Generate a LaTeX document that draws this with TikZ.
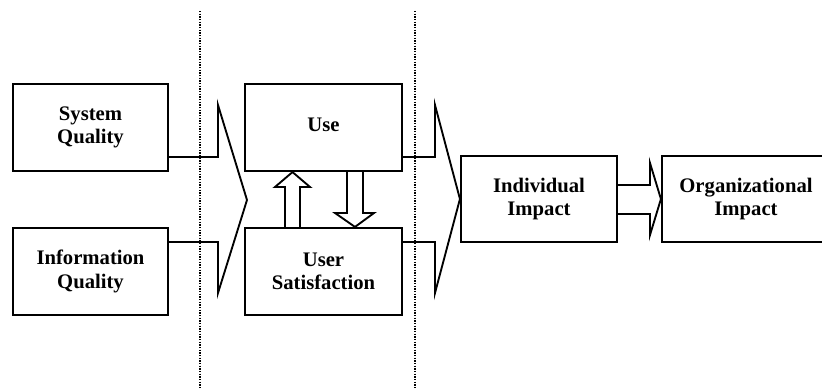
\documentclass[tikz,border=0pt]{standalone}
\usepackage{fontspec}
\setmainfont{Liberation Serif}
\usetikzlibrary{positioning}
\tikzset{box/.style = {draw, line width=1.6pt, align=center, inner sep=0pt,
                       font=\bfseries\fontsize{15.5}{17.5}\selectfont},
         fat/.style = {line width=1.4pt, line join=miter},
         divider/.style = {line width=1.3pt, dash pattern=on 1pt off 1pt}}

\begin{document}
\begin{tikzpicture}[x=0.75pt, y=-0.75pt]
    \useasboundingbox (0, 0) rectangle (822, 389);
    \clip (0, 0) rectangle (822, 389);

    \draw [divider] (200, 11) -- (200, 389);
    \draw [divider] (415, 11) -- (415, 389);

    \node [box, minimum width=116.25pt, minimum height=65.25pt] (sysq) at (90.5, 127.5) {System\\Quality};
    \node [box, minimum width=116.25pt, minimum height=65.25pt] (infq) at (90.5, 271.5) {Information\\Quality};
    \node [box, minimum width=117.75pt, minimum height=65.25pt] (use) at (323.5, 127.5) {\raisebox{4pt}{Use}};
    \node [box, minimum width=117.75pt, minimum height=65.25pt] (usat) at (323.5, 271.5) {User\\Satisfaction};
    \node [box, minimum width=117pt, minimum height=64.5pt] (indi) at (539, 199) {Individual\\Impact};
    \node [box, minimum width=126pt, minimum height=64.5pt] (orgi) at (746, 199) {Organizational\\Impact};

    \coordinate (tipa) at (247, 200);

    % quality -> use / satisfaction
    \draw [fat] (sysq.east |- 0, 157) -| (218, 105) -- (tipa) -- (218, 293) |- (infq.east |- 0, 242);
    % use / satisfaction -> individual
    \draw [fat] (use.east |- 0, 157) -| (435, 105) -- (indi.west) -- (435, 293) |- (usat.east |- 0, 242);
    % individual -> organizational
    \draw [fat] (indi.east |- 0, 185) -- (650, 185) -- (650, 163) -- (orgi.west)
                -- (650, 235) -- (650, 214) -- (indi.east |- 0, 214);

    % use <-> satisfaction
    \draw [fat] (usat.north -| 285, 0) -- (285, 187) -- (275, 187) -- (use.south -| 292.5, 0)
                -- (310, 187) -- (300, 187) -- (usat.north -| 300, 0);
    \draw [fat] (use.south -| 347, 0) -- (347, 213) -- (335, 213) -- (usat.north -| 355, 0)
                -- (374, 213) -- (363, 213) -- (use.south -| 363, 0);
\end{tikzpicture}
\end{document}
